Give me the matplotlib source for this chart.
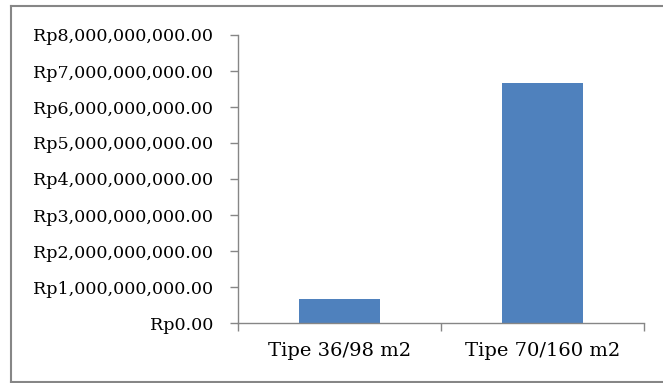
import matplotlib
matplotlib.use("Agg")
import matplotlib.pyplot as plt
from matplotlib.lines import Line2D
from matplotlib.ticker import FuncFormatter, MultipleLocator

categories = ["Tipe 36/98 m2", "Tipe 70/160 m2"]
values = [667_000_000, 6_660_000_000]

W, H = 663, 383
fig = plt.figure(figsize=(W / 100, H / 100), dpi=100)
ax = fig.add_axes([238 / W, 1 - 323 / H, (644 - 238) / W, (323 - 35) / H])

bar_color = "#4F81BD"
axis_color = "#868686"
font = ["DejaVu Serif"]

x = list(range(len(categories)))
ax.bar(x, values, width=0.4, color=bar_color, zorder=2)
ax.set_xlim(-0.5, len(categories) - 0.5)
ax.set_ylim(0, 8e9)
ax.yaxis.set_major_locator(MultipleLocator(1e9))
ax.yaxis.set_major_formatter(FuncFormatter(lambda v, p: "Rp{:,.2f}".format(v)))

ax.set_xticks([i - 0.5 for i in range(len(categories) + 1)])
ax.set_xticklabels([])
ax.set_xticks(x, minor=True)
ax.set_xticklabels(categories, minor=True)
ax.tick_params(axis="x", which="minor", length=0, pad=14, labelsize=14, labelcolor="black")
ax.tick_params(axis="x", which="major", length=6, color=axis_color, width=1)
ax.tick_params(axis="y", length=5.5, color=axis_color, width=1, labelsize=12.6, pad=12.5)

for lab in ax.get_xticklabels(minor=True) + ax.get_yticklabels():
    lab.set_family(font)

for s in ["top", "right"]:
    ax.spines[s].set_visible(False)
for s in ["left", "bottom"]:
    ax.spines[s].set_color(axis_color)
    ax.spines[s].set_linewidth(1)
ax.spines["left"].set_bounds(0, 8e9)

# outer border (right side cut off in the reference)
bl, bt, bb = 11 / W, 1 - 6 / H, 1 - 382 / H
for xs, ys in [([bl, bl], [bb, bt]), ([bl, 1.01], [bt, bt]), ([bl, 1.01], [bb, bb])]:
    fig.add_artist(Line2D(xs, ys, color=axis_color, linewidth=1.5, transform=fig.transFigure))

fig.savefig("out.png", dpi=100)
